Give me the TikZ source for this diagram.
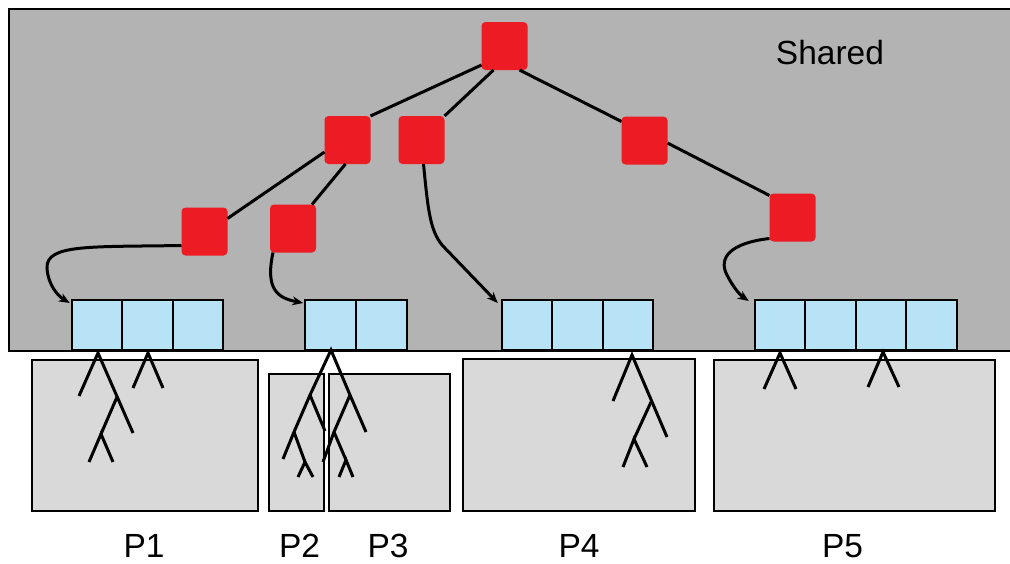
\documentclass[tikz,border=0pt]{standalone}
\usepackage{fontspec}
\setmainfont{Liberation Sans}
\usetikzlibrary{arrows.meta}
\definecolor{sharedgray}{HTML}{B3B3B3}
\definecolor{procgray}{HTML}{D9D9D9}
\definecolor{nodered}{HTML}{ED1C24}
\definecolor{cellblue}{HTML}{B8E3F7}
\begin{document}
\begin{tikzpicture}[x=1pt,y=-1pt,
  treenode/.style={fill=nodered, rounded corners=4pt, minimum width=46pt, minimum height=48pt, inner sep=0pt, outer sep=0pt},
  cell/.style={draw, line width=2.4pt, fill=cellblue, minimum width=50.5pt, minimum height=50pt, inner sep=0pt, outer sep=0pt},
  procbox/.style={draw, line width=2.8pt, fill=procgray, inner sep=0pt, outer sep=0pt, anchor=north west},
  link/.style={line width=3pt},
  pointer/.style={line width=3pt, -{Stealth[length=11pt,width=9pt]}},
  branch/.style={line width=3pt},
  lbl/.style={font=\fontsize{33.5}{40}\selectfont, anchor=base, inner sep=0pt}]
\useasboundingbox (0,0) rectangle (1010,563);

% shared region (open on the right)
\fill[sharedgray] (9,9) rectangle (1012,351);
\draw[line width=2.8pt] (1012,9) -- (9,9) -- (9,351) -- (1012,351);
\node[lbl] (shared) at (830,64) {Shared};

% private process regions
\node[procbox, minimum width=226pt, minimum height=151pt] (p1) at (32,360) {};
\node[procbox, minimum width=55pt,  minimum height=137pt] (p2) at (269,374) {};
\node[procbox, minimum width=121pt, minimum height=137pt] (p3) at (329,374) {};
\node[procbox, minimum width=232pt, minimum height=152pt] (p4) at (463,359) {};
\node[procbox, minimum width=281pt, minimum height=151pt] (p5) at (714,360) {};

% shared tree nodes
\node[treenode] (root) at (504.5,46) {};
\node[treenode] (na) at (347.5,140) {};
\node[treenode] (nb) at (421.5,140) {};
\node[treenode] (nc) at (644.5,140.5) {};
\node[treenode] (nd) at (204.5,231.5) {};
\node[treenode] (ne) at (293,228.5) {};
\node[treenode] (nf) at (792.5,217.5) {};

% tree edges
\draw[link] ([yshift=5pt]root.south west) -- (na.north east);
\draw[link] ([xshift=-11pt]root.south) -- (nb.north east);
\draw[link] ([xshift=15pt]root.south) -- ([yshift=-5pt]nc.north west);
\draw[link] ([yshift=12pt]na.south west) -- ([yshift=-11pt]nd.north east);
\draw[link] ([xshift=-2pt]na.south) -- ([xshift=-4pt]ne.north east);
\draw[link] ([yshift=-2.5pt]nc.east) -- ([yshift=-2pt]nf.north west);

% leaf arrays
\node[cell] (a1c1) at (97,325) {};
\node[cell] (a1c2) at (147.5,325) {};
\node[cell] (a1c3) at (198,325) {};
\node[cell] (a2c1) at (330.5,325) {};
\node[cell] (a2c2) at (381.5,325) {};
\node[cell] (a3c1) at (527,325) {};
\node[cell] (a3c2) at (577.5,325) {};
\node[cell] (a3c3) at (628,325) {};
\node[cell] (a4c1) at (780,325) {};
\node[cell] (a4c2) at (830.5,325) {};
\node[cell] (a4c3) at (881,325) {};
\node[cell] (a4c4) at (931.5,325) {};

% pointers from nodes to arrays
\draw[pointer] ([yshift=10pt]nd.south west) .. controls (90,247) and (46,244) .. (47,268)
  .. controls (48,285) and (58,296) .. ([shift={(-2pt,-3pt)}]a1c1.north west);
\draw[pointer] ([xshift=3pt]ne.south west) .. controls (265,290) and (278,298) .. ([shift={(-2pt,-3pt)}]a2c1.north west);
\draw[pointer] ([xshift=2pt]nb.south) .. controls (428,210) and (430,230) .. (442,245)
  -- ([shift={(-4pt,-3pt)}]a3c1.north west);
\draw[pointer] ([yshift=3pt]nf.south west) .. controls (730,243) and (718,258) .. (727,275)
  .. controls (733,287) and (740,295) .. ([shift={(-6pt,-1pt)}]a4c1.north west);

% private subtrees
\draw[branch] (79,396) -- (98,353) -- (133,433);
\draw[branch] (117,397) -- (101,434);
\draw[branch] (89,462) -- (101,434) -- (113,462);
\draw[branch] (133,388) -- (148,353) -- (163,388);

\draw[branch] (283,459) -- (294,432) -- (310,395) -- (331,350) -- (350,395) -- (366,432);
\draw[branch] (310,395) -- (325,431);
\draw[branch] (294,432) -- (305,462);
\draw[branch] (298,477) -- (305,462) -- (313,477);
\draw[branch] (350,395) -- (334,432) -- (323,462);
\draw[branch] (334,432) -- (346,460);
\draw[branch] (339,477) -- (346,460) -- (353,477);

\draw[branch] (613,401) -- (632,355) -- (667,437);
\draw[branch] (651,402) -- (634,439);
\draw[branch] (623,467) -- (634,439) -- (647,467);

\draw[branch] (764,389) -- (780,353) -- (796,389);
\draw[branch] (868,387) -- (883,352) -- (899,387);

% labels
\node[lbl] (l1) at (144,557) {P1};
\node[lbl] (l2) at (299.5,557) {P2};
\node[lbl] (l3) at (388,557) {P3};
\node[lbl] (l4) at (579,557) {P4};
\node[lbl] (l5) at (842.5,557) {P5};
\end{tikzpicture}
\end{document}
